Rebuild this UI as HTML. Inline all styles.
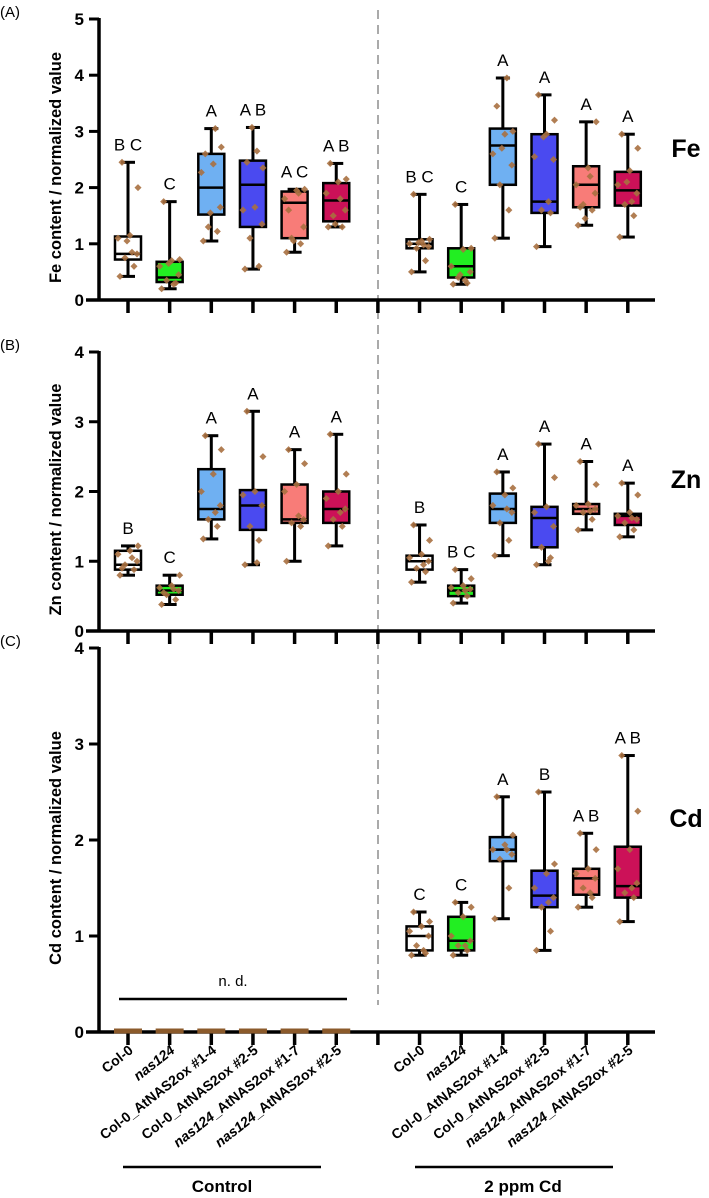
<!DOCTYPE html>
<html><head><meta charset="utf-8"><style>
html,body{margin:0;padding:0;background:#fff}
svg{display:block;font-family:"Liberation Sans",Arial,sans-serif}
</style></head><body>
<svg id="chart" width="709" height="1198" viewBox="0 0 709 1198" xmlns="http://www.w3.org/2000/svg"></svg>
<script>
// ===== data =====
const categories = ["Col-0","nas124","Col-0_AtNAS2ox #1-4","Col-0_AtNAS2ox #2-5","nas124_AtNAS2ox #1-7","nas124_AtNAS2ox #2-5"];
const groups = ["Control","2 ppm Cd"];
const fillColors = ["#ffffff","#22ee22","#6fb0f2","#4a4af0","#f87c78","#cc1158"];
// box stats: [min, q1, median, q3, max] per box (control 0-5, Cd 6-11)
const feStats = [[0.42,0.72,0.82,1.13,2.45],[0.2,0.32,0.4,0.68,1.75],[1.05,1.52,2.0,2.6,3.05],[0.55,1.3,2.05,2.48,3.07],[0.85,1.1,1.73,1.93,1.97],[1.3,1.4,1.77,2.08,2.43],
 [0.5,0.92,1.0,1.08,1.88],[0.28,0.4,0.6,0.92,1.7],[1.1,2.05,2.75,3.05,3.95],[0.95,1.55,1.75,2.95,3.65],[1.33,1.65,2.05,2.38,3.17],[1.12,1.68,1.95,2.28,2.95]];
const znStats = [[0.8,0.88,0.95,1.15,1.22],[0.38,0.52,0.58,0.65,0.8],[1.32,1.6,1.75,2.32,2.8],[0.95,1.45,1.8,2.02,3.15],[1.0,1.55,1.6,2.1,2.6],[1.22,1.55,1.75,2.0,2.82],
 [0.7,0.88,1.0,1.08,1.52],[0.4,0.5,0.58,0.65,0.88],[1.08,1.55,1.75,1.97,2.28],[0.95,1.2,1.62,1.78,2.68],[1.45,1.68,1.75,1.82,2.43],[1.35,1.52,1.65,1.68,2.12]];
const cdStats = [[0,0,0,0,0],[0,0,0,0,0],[0,0,0,0,0],[0,0,0,0,0],[0,0,0,0,0],[0,0,0,0,0],
 [0.8,0.85,1.0,1.1,1.25],[0.8,0.85,0.95,1.2,1.35],[1.18,1.78,1.9,2.03,2.45],[0.85,1.3,1.42,1.68,2.5],[1.3,1.43,1.6,1.7,2.07],[1.15,1.4,1.52,1.93,2.88]];
// individual points
const fePoints = [[0.42,0.6,0.75,0.82,1.1,1.15,2.0,2.45,0.85,1.05],[0.2,0.3,0.35,0.45,0.6,0.7,0.72,1.75,0.28,0.65],[1.05,1.22,1.3,1.65,2.27,2.42,2.72,2.6,3.05,1.55],[0.55,0.6,1.1,1.35,1.6,1.65,2.35,2.45,2.65,3.07],[0.85,1.0,1.1,1.3,1.8,1.95,1.97,1.6,1.9,1.05],[1.3,1.3,1.5,1.6,1.9,2.1,2.15,2.43,1.8,1.35],
 [0.5,0.7,0.92,0.95,1.0,1.05,1.08,1.88,0.98,1.02],[0.28,0.3,0.4,0.5,0.6,0.9,0.92,1.7,0.35,0.45],[1.1,1.6,2.05,2.4,2.6,2.95,3.0,3.45,3.95,2.7],[0.95,1.55,1.6,2.5,2.55,2.95,3.2,3.65,1.75,2.9],[1.33,1.6,1.7,1.9,2.05,2.35,3.17,1.65,2.2,1.45],[1.12,1.5,1.7,1.9,2.05,2.3,2.7,2.95,1.75,2.1]];
const znPoints = [[0.8,0.88,0.95,1.0,1.1,1.15,1.22,0.9,1.05],[0.38,0.45,0.52,0.58,0.62,0.65,0.8,0.55,0.6],[1.32,1.5,1.6,1.8,2.0,2.25,2.6,2.8,1.7],[0.95,1.3,1.5,1.8,1.95,2.0,2.5,3.15,0.98],[1.0,1.5,1.55,1.6,2.0,2.1,2.4,2.6,1.65],[1.22,1.5,1.6,1.75,1.9,2.0,2.25,2.82,1.7],
 [0.7,0.85,0.9,1.0,1.05,1.1,1.3,1.52,0.95],[0.4,0.5,0.55,0.6,0.62,0.65,0.75,0.88,0.58],[1.08,1.3,1.55,1.7,1.8,1.95,2.05,2.28,1.75],[0.95,1.05,1.2,1.5,1.7,1.78,2.2,2.68,1.0],[1.45,1.6,1.7,1.75,1.8,1.82,2.1,2.43,1.72],[1.35,1.45,1.55,1.6,1.65,1.7,1.95,2.12,1.62]];
const cdPoints = [[0,0,0],[0,0,0],[0,0,0],[0,0,0],[0,0,0],[0,0,0],
 [0.8,0.82,0.9,1.0,1.05,1.1,1.15,1.25,0.85],[0.8,0.85,0.9,0.95,1.0,1.2,1.3,1.35,0.9],[1.18,1.5,1.8,1.85,1.9,1.95,2.05,2.45,1.9],[0.85,1.05,1.3,1.4,1.5,1.65,1.75,2.5,1.35],[1.3,1.4,1.5,1.6,1.65,1.7,1.9,2.07,1.45],[1.15,1.4,1.45,1.55,1.7,1.9,2.3,2.88,1.5]];
const feLetters = ["B C","C","A","A B","A C","A B","B C","C","A","A","A","A"];
const znLetters = ["B","C","A","A","A","A","B","B C","A","A","A","A"];
const cdLetters = ["","","","","","","C","C","A","B","A B","A B"];
const feTicks = ["0","1","2","3","4","5"];
const znTicks = ["0","1","2","3","4"];
const cdTicks = ["0","1","2","3","4"];

// ===== drawing =====
const svg = document.getElementById('chart');
const NS = "http://www.w3.org/2000/svg";
function mk(tag, attrs, parent){const e=document.createElementNS(NS,tag);for(const k in attrs)e.setAttribute(k,attrs[k]);(parent||svg).appendChild(e);return e;}
const AX = 99, XL = 86, XR = 655, X0 = 128, STEP = 41.65;
function xPos(i){return X0 + STEP*(i<6?i:i+1);}
const jit = [-8,6,-3,9,-10,2,10,-6,4,-1];

const panels = [
 {id:"fe",label:"(A)",el:"Fe",title:"Fe content / normalized value",y0:300,yTop:19,max:5,ticks:feTicks,stats:feStats,pts:fePoints,letters:feLetters,elY:157},
 {id:"zn",label:"(B)",el:"Zn",title:"Zn content / normalized value",y0:631,yTop:352,max:4,ticks:znTicks,stats:znStats,pts:znPoints,letters:znLetters,elY:488},
 {id:"cd",label:"(C)",el:"Cd",title:"Cd content / normalized value",y0:1032,yTop:648,max:4,ticks:cdTicks,stats:cdStats,pts:cdPoints,letters:cdLetters,elY:827}
];

let dl = mk('line',{x1:378,y1:10,x2:378,y2:1005,stroke:'#aaa','stroke-width':2,'stroke-dasharray':'9,6'});



panels.forEach(p=>{
  const g = mk('g',{});
  
  
  const sc = (p.y0-p.yTop)/p.max;
  const y = v => p.y0 - v*sc;
  let t = mk('text',{x:0,y:p.yTop-2,'font-size':15},g); t.textContent=p.label;
   
  t = mk('text',{x:686,y:p.elY,'font-size':25,'font-weight':'bold','text-anchor':'middle'},g); t.textContent=p.el;
   
  t = mk('text',{x:0,y:0,'font-size':16.5,'font-weight':'bold','text-anchor':'middle',transform:`translate(61,${(p.y0+p.yTop)/2+8}) rotate(-90)`},g); t.textContent=p.title;
   
  let a = mk('line',{x1:AX,y1:p.yTop-1,x2:AX,y2:p.y0+1.5,stroke:'#000','stroke-width':3.5},g);
   
  a = mk('line',{x1:XL,y1:p.y0,x2:XR,y2:p.y0,stroke:'#000','stroke-width':3.5},g);
   
  p.ticks.forEach((lab,k)=>{
    const yy = y(+lab);
    mk('line',{x1:AX-10,y1:yy,x2:AX,y2:yy,stroke:'#000','stroke-width':3},g);
    const tt = mk('text',{x:AX-15,y:yy+6,'font-size':17,'font-weight':'bold','text-anchor':'end'},g); tt.textContent=lab;
     
  });
  for(let i=0;i<13;i++){const xx=X0+STEP*i; mk('line',{x1:xx,y1:p.y0,x2:xx,y2:p.y0+13,stroke:'#000','stroke-width':3.5},g);}
  p.stats.forEach((s,i)=>{
    const cx = xPos(i), w=26, c=fillColors[i%6];
    const bg = mk('g',{},g);
    
    
    if(s[4]===0){
      mk('line',{x1:cx-14,y1:p.y0-1,x2:cx+14,y2:p.y0-1,stroke:'#8b5a2b','stroke-width':5},bg);
      return;
    }
    mk('line',{x1:cx,y1:y(s[0]),x2:cx,y2:y(s[4]),stroke:'#000','stroke-width':3},bg);
    mk('line',{x1:cx-7,y1:y(s[0]),x2:cx+7,y2:y(s[0]),stroke:'#000','stroke-width':3},bg);
    mk('line',{x1:cx-7,y1:y(s[4]),x2:cx+7,y2:y(s[4]),stroke:'#000','stroke-width':3},bg);
    mk('rect',{x:cx-w/2,y:y(s[3]),width:w,height:y(s[1])-y(s[3]),fill:c,stroke:'#000','stroke-width':2.5},bg);
    mk('line',{x1:cx-w/2,y1:y(s[2]),x2:cx+w/2,y2:y(s[2]),stroke:'#000','stroke-width':2.5},bg);
    p.pts[i].forEach((v,k)=>{
      const px=cx+jit[k%jit.length], py=y(v);
      mk('rect',{x:px-2.5,y:py-2.5,width:5,height:5,fill:'#a87040',opacity:0.9,transform:`rotate(45 ${px} ${py})`},bg);
    });
    if(p.letters[i]){
      const lt = mk('text',{x:cx,y:y(s[4])-12,'font-size':17,'text-anchor':'middle'},bg); lt.textContent=p.letters[i];
       
    }
  });
  if(p.id==='cd'){
    const l = mk('line',{x1:119,y1:999,x2:347,y2:999,stroke:'#000','stroke-width':2.5},g);
     
    const nd = mk('text',{x:233,y:986,'font-size':15,'text-anchor':'middle'},g); nd.textContent='n. d.';
     
  }
});

for(let i=0;i<12;i++){
  const name = categories[i%6], cx=xPos(i);
  const t = mk('text',{'font-size':14,'font-weight':'bold','text-anchor':'end',transform:`translate(${cx+6},${1052}) rotate(-38)`});
  
  
  if(name.startsWith('nas124')){
    const a=mk('tspan',{'font-style':'italic'},t); a.textContent='nas124';
    const b=mk('tspan',{},t); b.textContent=name.slice(6);
  } else t.textContent=name;
}
[[123,321,222],[415,613,523]].forEach((r,k)=>{
  const l=mk('line',{x1:r[0],y1:1167,x2:r[1],y2:1167,stroke:'#000','stroke-width':2.5});
   
  const t=mk('text',{x:r[2],y:1192,'font-size':17,'font-weight':'bold','text-anchor':'middle'}); t.textContent=groups[k];
   
});
</script>
</body></html>
